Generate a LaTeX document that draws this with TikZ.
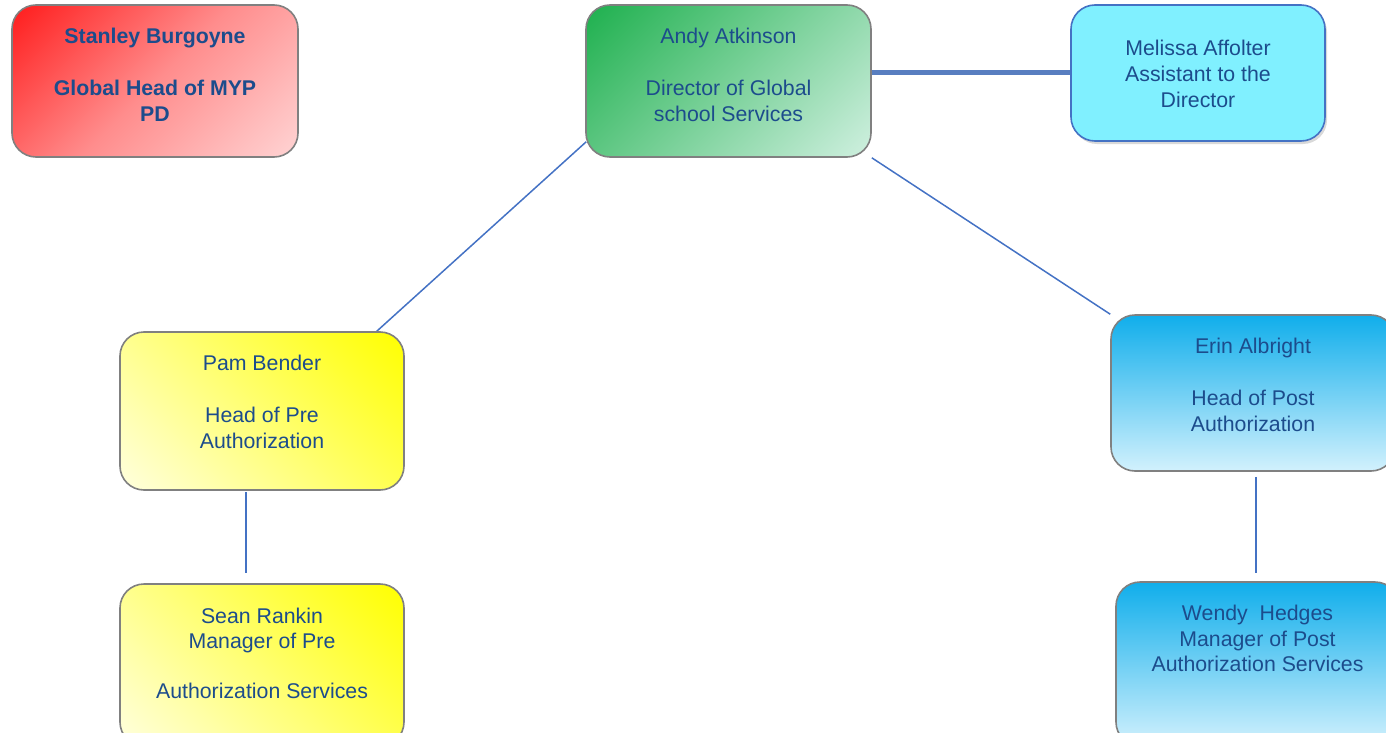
\documentclass[tikz,border=0pt]{standalone}
\usepackage{fontspec}
\setmainfont{Liberation Sans}
\usetikzlibrary{shadows,backgrounds}
\definecolor{txtblue}{RGB}{28,76,140}
\definecolor{boxgray}{RGB}{128,128,128}
\definecolor{linkblue}{RGB}{68,114,196}
\definecolor{thickblue}{RGB}{88,126,192}
\definecolor{redA}{RGB}{255,28,28}
\definecolor{redM}{RGB}{255,140,140}
\definecolor{redB}{RGB}{255,212,212}
\definecolor{greenA}{RGB}{30,176,78}
\definecolor{greenB}{RGB}{208,240,224}
\definecolor{yelA}{RGB}{255,255,0}
\definecolor{yelB}{RGB}{255,255,222}
\definecolor{bluA}{RGB}{16,174,235}
\definecolor{bluB}{RGB}{210,241,253}
\definecolor{cyanF}{RGB}{128,240,255}
\definecolor{cyanD}{RGB}{68,114,196}
\pgfdeclareverticalshading{redgrad}{100bp}{color(0bp)=(redB); color(14.6bp)=(redB); color(50bp)=(redM); color(85.4bp)=(redA); color(100bp)=(redA)}
\pgfdeclareverticalshading{greengrad}{100bp}{color(0bp)=(greenB); color(14.6bp)=(greenB); color(85.4bp)=(greenA); color(100bp)=(greenA)}
\pgfdeclareverticalshading{yelgrad}{100bp}{color(0bp)=(yelB); color(14.6bp)=(yelB); color(85.4bp)=(yelA); color(100bp)=(yelA)}
\pgfdeclareverticalshading{blugrad}{100bp}{color(0bp)=(bluB); color(25bp)=(bluB); color(75bp)=(bluA); color(100bp)=(bluA)}
\begin{document}
\begin{tikzpicture}[x=1pt,y=-1pt,
  orgbox/.style={draw=boxgray, line width=1.6pt, rounded corners=24pt, inner sep=0pt, shape=rectangle},
  redbox/.style={orgbox, shade, shading=redgrad, shading angle=45},
  greenbox/.style={orgbox, shade, shading=greengrad, shading angle=45},
  yelbox/.style={orgbox, shade, shading=yelgrad, shading angle=-45},
  blubox/.style={orgbox, shade, shading=blugrad, shading angle=0},
  cyanbox/.style={orgbox, draw=cyanD, fill=cyanF, drop shadow={shadow xshift=2pt, shadow yshift=-3pt, opacity=0.3}},
  lbl/.style={text=txtblue, align=center, inner sep=0pt, anchor=north, font=\fontsize{21.3}{26}\selectfont},
  link/.style={draw=linkblue, line width=1.5pt},
  thicklink/.style={draw=thickblue, line width=5pt}]
\useasboundingbox (0,0) rectangle (1386,733);
\clip (0,0) rectangle (1386,733);

% boxes
\node[redbox, minimum width=286pt, minimum height=152pt] (stanley) at (155,81) {};
\node[greenbox, minimum width=285pt, minimum height=152pt] (andy) at (728.5,81) {};
\node[cyanbox, minimum width=254pt, minimum height=136pt] (melissa) at (1198,73) {};
\node[yelbox, minimum width=284pt, minimum height=158pt] (pam) at (262,411) {};
\node[yelbox, minimum width=284pt, minimum height=162pt] (sean) at (262,665) {};
\node[blubox, minimum width=284pt, minimum height=156pt] (erin) at (1253,393) {};
\node[blubox, minimum width=283pt, minimum height=164pt] (wendy) at (1257.5,664) {};

% texts
\node[lbl, font=\bfseries\fontsize{21.3}{26}\selectfont] (stanleyT) at (155,28) {Stanley Burgoyne\\[26pt]Global Head of MYP\\PD};
\node[lbl] (andyT) at (728.5,28) {Andy Atkinson\\[26pt]Director of Global\\school Services};
\node[lbl] (melissaT) at (1198,40) {Melissa Affolter\\Assistant to the\\Director};
\node[lbl] (pamT) at (262,355) {Pam Bender\\[26pt]Head of Pre\\Authorization};
\node[lbl, font=\fontsize{21.3}{25}\selectfont] (seanT) at (262,608) {Sean Rankin\\Manager of Pre\\[25pt]Authorization Services};
\node[lbl] (erinT) at (1253,338) {Erin Albright\\[25.5pt]Head of Post\\Authorization};
\node[lbl, font=\fontsize{21.3}{25.5}\selectfont] (wendyT) at (1257.5,605) {Wendy\ \ Hedges\\Manager of Post\\Authorization Services};

% connectors
\begin{pgfonlayer}{background}
\draw[thicklink] (andy.east |- melissa.west) -- (melissa.west);
\draw[link] ([xshift=1pt,yshift=16pt]andy.south west) -- ([xshift=-28pt]pam.north east);
\draw[link] (andy.south east) -- (erin.north west);
\draw[link] ([xshift=-16pt,yshift=-1pt]pam.south) -- ([xshift=-16pt,yshift=10pt]sean.north);
\draw[link] ([xshift=3pt,yshift=-5pt]erin.south) -- ([xshift=-1.5pt,yshift=8pt]wendy.north);
\end{pgfonlayer}
\end{tikzpicture}
\end{document}
